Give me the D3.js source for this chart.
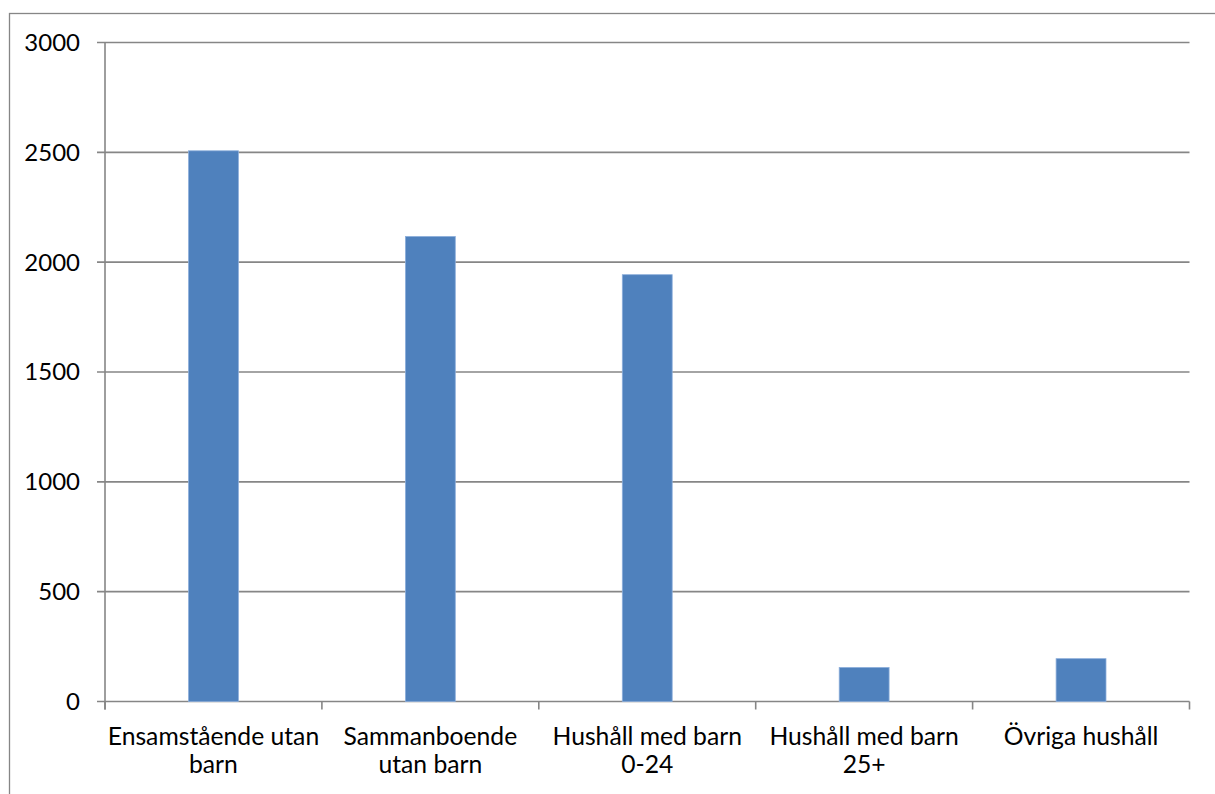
<!DOCTYPE html>
<html>
<head>
<meta charset="utf-8">
<script src="https://cdn.jsdelivr.net/npm/d3@7"></script>
<style>
  html, body { margin: 0; padding: 0; background: #fff; }
  svg { display: block; }
  text { font-family: Lato, "Open Sans", sans-serif; fill: #000; }
</style>
</head>
<body>
<svg id="chart" width="1215" height="794"></svg>
<script>
// Households by type
const categories = [
  ["Ensamstående utan", "barn"],
  ["Sammanboende", "utan barn"],
  ["Hushåll med barn", "0-24"],
  ["Hushåll med barn", "25+"],
  ["Övriga hushåll"]
];
const values = [2507, 2117, 1943, 155, 195];
const yTicks = [0, 500, 1000, 1500, 2000, 2500, 3000];

const svg = d3.select("#chart");
const margin = { left: 105, right: 1189.5, top: 42.5, bottom: 701.5 };
const gridColor = "#868686";

// chart frame (extends beyond the visible area on right and bottom)
svg.append("rect")
  .attr("x", 9.5).attr("y", 13.5)
  .attr("width", 1240).attr("height", 820)
  .attr("fill", "#fff")
  .attr("stroke", gridColor).attr("stroke-width", 1.3);

const keys = categories.map((d, i) => i);
const x = d3.scaleBand().domain(keys).range([margin.left, margin.right]).paddingInner(0).paddingOuter(0);
const y = d3.scaleLinear().domain([0, 3000]).range([margin.bottom, margin.top]);

// horizontal gridlines
svg.append("g").selectAll("line").data(yTicks).join("line")
  .attr("x1", margin.left - 8).attr("x2", margin.right)
  .attr("y1", d => y(d)).attr("y2", d => y(d))
  .attr("stroke", gridColor).attr("stroke-width", 1.6);

// y axis line
svg.append("line")
  .attr("x1", margin.left).attr("x2", margin.left)
  .attr("y1", margin.top).attr("y2", margin.bottom + 8)
  .attr("stroke", gridColor).attr("stroke-width", 1.6);

// y tick labels
svg.append("g").selectAll("text").data(yTicks).join("text")
  .attr("x", 80).attr("y", d => y(d))
  .attr("dy", "0.35em")
  .attr("text-anchor", "end")
  .attr("font-size", 24)
  .text(d => d);

// category tick marks
const bounds = keys.map(k => x(k) + x.bandwidth()).concat([margin.left]);
svg.append("g").selectAll("line").data(bounds).join("line")
  .attr("x1", d => d).attr("x2", d => d)
  .attr("y1", margin.bottom).attr("y2", margin.bottom + 8)
  .attr("stroke", gridColor).attr("stroke-width", 1.6);

// bars
const barFrac = 0.23;
svg.append("g").selectAll("rect").data(values).join("rect")
  .attr("x", (d, i) => x(i) + x.bandwidth() * (1 - barFrac) / 2)
  .attr("width", x.bandwidth() * barFrac)
  .attr("y", d => y(d))
  .attr("height", d => y(0) - y(d))
  .attr("fill", "#4F81BD")
  .attr("stroke", "#8DAEDB").attr("stroke-width", 0.8);

// category labels
const labels = svg.append("g").selectAll("text").data(categories).join("text")
  .attr("text-anchor", "middle")
  .attr("font-size", 24.7)
  .attr("transform", (d, i) => `translate(${x(i) + x.bandwidth() / 2},745)`);
labels.selectAll("tspan").data(d => d).join("tspan")
  .attr("x", 0)
  .attr("y", (d, j) => j * 28)
  .text(d => d);
</script>
</body>
</html>
